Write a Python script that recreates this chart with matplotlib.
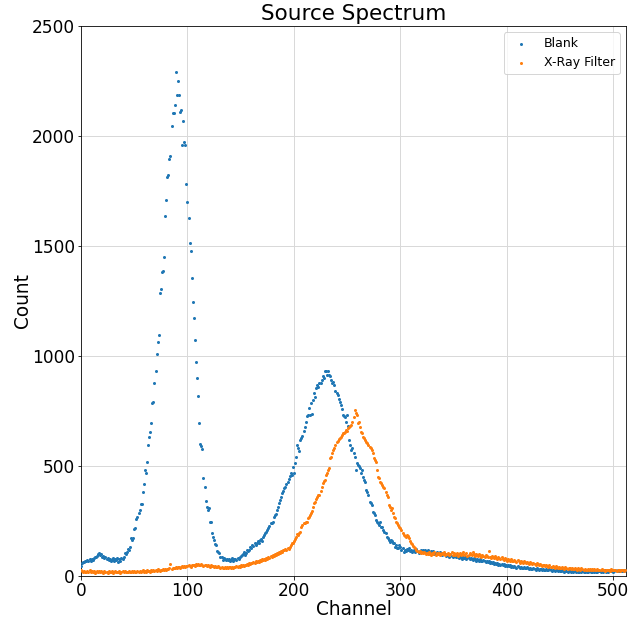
import numpy as np
import matplotlib
matplotlib.use("Agg")
import matplotlib.pyplot as plt

# counts per channel (0..511) for each measurement
blank = [
    45, 60, 65, 62, 70, 66, 72, 68, 75, 70, 78, 74, 82, 88, 85, 92,
    98, 103, 95, 100, 88, 90, 82, 85, 76, 80, 72, 78, 70, 74, 80, 68,
    75, 72, 80, 65, 78, 70, 82, 76, 88, 106, 98, 110, 121, 118, 130, 171,
    165, 171, 212, 218, 258, 267, 288, 300, 326, 326, 383, 417, 482, 470, 520, 595,
    633, 656, 694, 785, 792, 876, 933, 1008, 1061, 1093, 1285, 1303, 1379, 1388, 1450, 1636,
    1709, 1815, 1821, 1895, 1910, 2044, 2103, 2103, 2141, 2288, 2185, 2249, 2185, 2110, 2117, 1959,
    2067, 1971, 1959, 1779, 1697, 1627, 1512, 1476, 1356, 1247, 1171, 1073, 970, 901, 817, 697,
    601, 591, 576, 447, 403, 342, 315, 300, 308, 245, 245, 194, 176, 164, 144, 140,
    114, 110, 103, 88, 85, 73, 80, 77, 72, 78, 73, 76, 70, 74, 82, 70,
    75, 78, 72, 80, 77, 85, 90, 95, 100, 110, 95, 105, 120, 112, 118, 133,
    125, 140, 135, 148, 140, 150, 160, 152, 165, 170, 160, 178, 186, 194, 200, 210,
    217, 225, 239, 240, 245, 270, 277, 282, 300, 315, 330, 345, 360, 376, 385, 400,
    405, 418, 429, 440, 455, 467, 459, 497, 467, 515, 540, 595, 580, 570, 618, 626,
    636, 660, 679, 701, 727, 732, 762, 732, 785, 736, 800, 830, 815, 852, 868, 860,
    876, 876, 891, 909, 900, 930, 930, 915, 930, 913, 909, 891, 879, 883, 870, 839,
    830, 823, 806, 791, 776, 760, 732, 727, 724, 700, 732, 680, 618, 595, 573, 580,
    560, 540, 482, 512, 505, 500, 489, 467, 482, 452, 436, 429, 391, 383, 368, 338,
    330, 323, 292, 285, 277, 255, 247, 239, 232, 247, 221, 224, 209, 201, 194, 179,
    171, 164, 156, 164, 160, 148, 150, 133, 140, 126, 126, 141, 130, 118, 125, 110,
    120, 115, 122, 118, 125, 112, 120, 108, 115, 118, 110, 122, 112, 105, 115, 118,
    110, 116, 108, 120, 112, 105, 118, 110, 102, 115, 108, 112, 100, 106, 110, 98,
    104, 110, 100, 96, 105, 98, 102, 92, 100, 95, 88, 98, 92, 86, 95, 90,
    84, 92, 88, 80, 90, 85, 78, 86, 82, 88, 76, 84, 80, 75, 82, 78,
    72, 80, 76, 70, 78, 73, 68, 75, 70, 66, 72, 68, 64, 70, 62, 67,
    60, 65, 58, 63, 56, 60, 54, 58, 52, 56, 50, 55, 48, 53, 47, 52,
    45, 50, 44, 48, 42, 47, 40, 45, 43, 38, 44, 40, 36, 42, 38, 35,
    40, 37, 34, 39, 35, 32, 37, 33, 30, 36, 32, 29, 34, 31, 28, 33,
    30, 27, 32, 29, 26, 31, 28, 25, 30, 27, 24, 29, 26, 23, 28, 25,
    22, 27, 24, 21, 26, 23, 20, 25, 22, 19, 24, 21, 18, 23, 20, 24,
    21, 18, 23, 20, 17, 22, 19, 23, 20, 18, 22, 19, 17, 21, 24, 20,
    18, 22, 19, 23, 20, 17, 21, 24, 19, 22, 18, 21, 25, 20, 23, 19,
    22, 26, 21, 24, 20, 23, 27, 22, 25, 21, 24, 28, 23, 26, 22, 25,
]

xray_filter = [
    27, 22, 18, 24, 20, 16, 22, 19, 25, 17, 21, 18, 23, 15, 20, 22,
    18, 24, 16, 21, 19, 14, 22, 18, 20, 15, 23, 17, 19, 21, 13, 18,
    22, 16, 20, 18, 24, 15, 19, 21, 17, 23, 18, 20, 16, 22, 19, 17,
    21, 18, 23, 20, 16, 22, 19, 24, 18, 21, 25, 20, 23, 19, 26, 22,
    24, 20, 27, 23, 25, 21, 28, 24, 30, 26, 23, 29, 27, 31, 25, 30,
    28, 33, 30, 35, 55, 32, 36, 38, 34, 40, 37, 42, 39, 36, 41, 44,
    40, 45, 42, 47, 44, 50, 46, 43, 49, 52, 48, 45, 53, 50, 55, 51,
    48, 54, 50, 47, 52, 49, 45, 50, 47, 43, 48, 44, 46, 41, 45, 42,
    39, 44, 40, 36, 42, 38, 35, 41, 37, 40, 36, 39, 42, 38, 41, 37,
    43, 40, 44, 41, 46, 43, 48, 45, 50, 47, 52, 49, 55, 51, 58, 54,
    60, 57, 63, 59, 66, 62, 68, 65, 72, 69, 75, 71, 78, 74, 82, 79,
    86, 83, 90, 87, 94, 92, 98, 95, 103, 100, 108, 105, 113, 110, 118, 116,
    122, 120, 126, 124, 130, 140, 152, 148, 160, 167, 175, 190, 185, 197, 200, 224,
    230, 239, 239, 245, 247, 262, 270, 277, 285, 297, 315, 330, 338, 350, 360, 368,
    368, 385, 406, 421, 430, 436, 459, 470, 482, 490, 535, 542, 560, 573, 580, 595,
    610, 615, 621, 628, 633, 640, 648, 648, 656, 664, 660, 671, 679, 683, 686, 701,
    724, 755, 740, 732, 694, 700, 679, 656, 648, 633, 625, 618, 610, 603, 595, 588,
    580, 573, 560, 535, 527, 520, 482, 452, 444, 429, 421, 413, 406, 398, 383, 368,
    360, 323, 315, 300, 308, 285, 270, 262, 247, 239, 230, 224, 216, 209, 195, 186,
    180, 175, 186, 182, 173, 160, 150, 145, 138, 130, 125, 120, 115, 109, 112, 105,
    108, 103, 110, 106, 100, 104, 98, 107, 102, 96, 105, 100, 108, 97, 103, 99,
    106, 95, 101, 104, 98, 110, 96, 102, 99, 105, 94, 100, 107, 97, 103, 95,
    100, 106, 93, 98, 104, 96, 101, 108, 94, 99, 103, 92, 97, 106, 100, 95,
    110, 98, 93, 102, 96, 90, 100, 95, 88, 97, 92, 86, 95, 90, 84, 112,
    88, 82, 91, 85, 80, 89, 83, 78, 86, 80, 75, 84, 78, 73, 81, 76,
    70, 78, 73, 68, 76, 70, 66, 74, 68, 63, 71, 66, 61, 69, 64, 59,
    66, 62, 57, 64, 59, 55, 62, 57, 53, 60, 55, 51, 57, 53, 49, 55,
    50, 46, 52, 48, 44, 50, 45, 42, 48, 43, 40, 46, 41, 38, 44, 40,
    36, 42, 38, 35, 40, 37, 33, 39, 35, 32, 38, 34, 31, 37, 33, 30,
    36, 32, 29, 35, 31, 28, 34, 30, 27, 33, 29, 26, 32, 28, 31, 27,
    30, 26, 32, 28, 25, 31, 27, 29, 25, 30, 26, 28, 24, 29, 27, 25,
    28, 24, 30, 26, 29, 25, 27, 23, 28, 26, 24, 29, 25, 27, 23, 26,
]

channels = np.arange(len(blank))

DPI = 72
fig = plt.figure(figsize=(628 / DPI, 621 / DPI), dpi=DPI)
ax = fig.add_axes([0.129, 0.0725, 0.868, 0.886])

ax.scatter(channels, blank, s=4, color="#1f77b4", label="Blank", zorder=3)
ax.scatter(channels, xray_filter, s=4, color="#ff7f0e", label="X-Ray Filter", zorder=3)

ax.set_xlim(0, 512)
ax.set_ylim(0, 2500)
ax.set_xticks([0, 100, 200, 300, 400, 500])
ax.set_yticks([0, 500, 1000, 1500, 2000, 2500])
ax.grid(True, color="#d9d9d9", linewidth=1.0)
ax.set_axisbelow(True)
ax.tick_params(labelsize=17, pad=2.5)

ax.set_title("Source Spectrum", fontsize=21.5)
ax.set_xlabel("Channel", fontsize=18.5, labelpad=0)
ax.set_ylabel("Count", fontsize=18.5, labelpad=0)
ax.legend(loc="upper right", fontsize=12.5)

fig.savefig("out.png", dpi=DPI)
